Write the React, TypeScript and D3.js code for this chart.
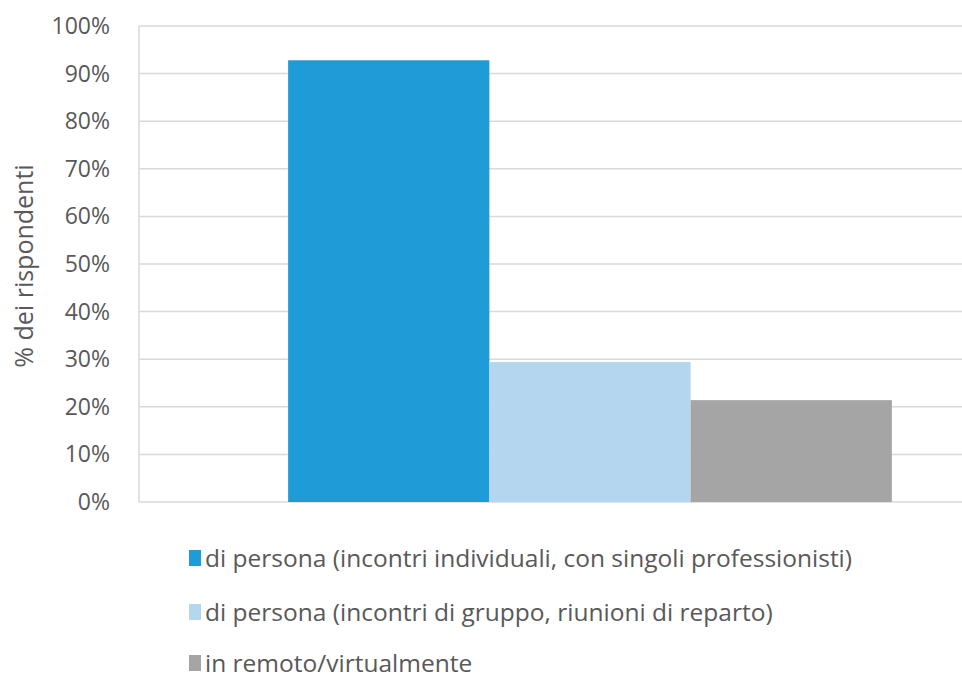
import React from "react";
import * as d3 from "d3";

const categories = ["Totale"];
const seriesNames = [
  "di persona (incontri individuali, con singoli professionisti)",
  "di persona (incontri di gruppo, riunioni di reparto)",
  "in remoto/virtualmente",
];
const seriesValues = [0.928, 0.294, 0.214];
const seriesColors = ["#1f9bd7", "#b4d7ef", "#a5a5a5"];
const yTicks = [0, 0.1, 0.2, 0.3, 0.4, 0.5, 0.6, 0.7, 0.8, 0.9, 1.0];
const yLabel = "% dei rispondenti";

const W = 962;
const H = 684;
const FONT = "'Open Sans', 'Noto Sans', sans-serif";

export default function App() {
  const left = 139;
  const right = 1041;
  const top = 26;
  const bottom = 502;

  const x = d3.scaleBand<string>().domain(categories).range([left, right]).paddingInner(0).paddingOuter(0.247);
  const xs = d3.scaleBand<string>().domain(seriesNames).range([0, x.bandwidth()]).padding(0);
  const y = d3.scaleLinear().domain([0, 1]).range([bottom, top]);
  const fmt = d3.format(".0%");

  const legendY = [558, 612, 663];

  return (
    <svg width={W} height={H} style={{ position: "absolute", left: 0, top: 0, background: "#fff" }} fontFamily={FONT}>
      <rect x={0} y={0} width={W} height={H} fill="#fff" />
      {yTicks.map((t) => (
        <line key={t} x1={left} x2={W} y1={y(t)} y2={y(t)} stroke="#d9d9d9" strokeWidth={1.5} />
      ))}
      <line x1={left} x2={left} y1={top} y2={bottom} stroke="#d9d9d9" strokeWidth={1.5} />
      {yTicks.map((t) => (
        <text key={"l" + t} x={110} y={y(t)} dy="0.35em" textAnchor="end" fontSize={23} fill="#595959">
          {fmt(t)}
        </text>
      ))}
      <text
        transform={`translate(24,${y(0.5) + 2}) rotate(-90)`}
        textAnchor="middle"
        dy="0.35em"
        fontSize={25}
        fill="#595959"
      >
        {yLabel}
      </text>
      {categories.map((c) =>
        seriesNames.map((s, i) => (
          <rect
            key={c + s}
            x={(x(c) ?? 0) + (xs(s) ?? 0)}
            y={y(seriesValues[i])}
            width={xs.bandwidth()}
            height={bottom - y(seriesValues[i])}
            fill={seriesColors[i]}
          />
        ))
      )}
      {seriesNames.map((s, i) => (
        <g key={"lg" + s} transform={`translate(189,${legendY[i]})`}>
          <rect x={0} y={-8} width={12} height={16} fill={seriesColors[i]} />
          <text x={16} y={0} dy="0.35em" fontSize={24.5} fill="#595959">
            {s}
          </text>
        </g>
      ))}
    </svg>
  );
}
